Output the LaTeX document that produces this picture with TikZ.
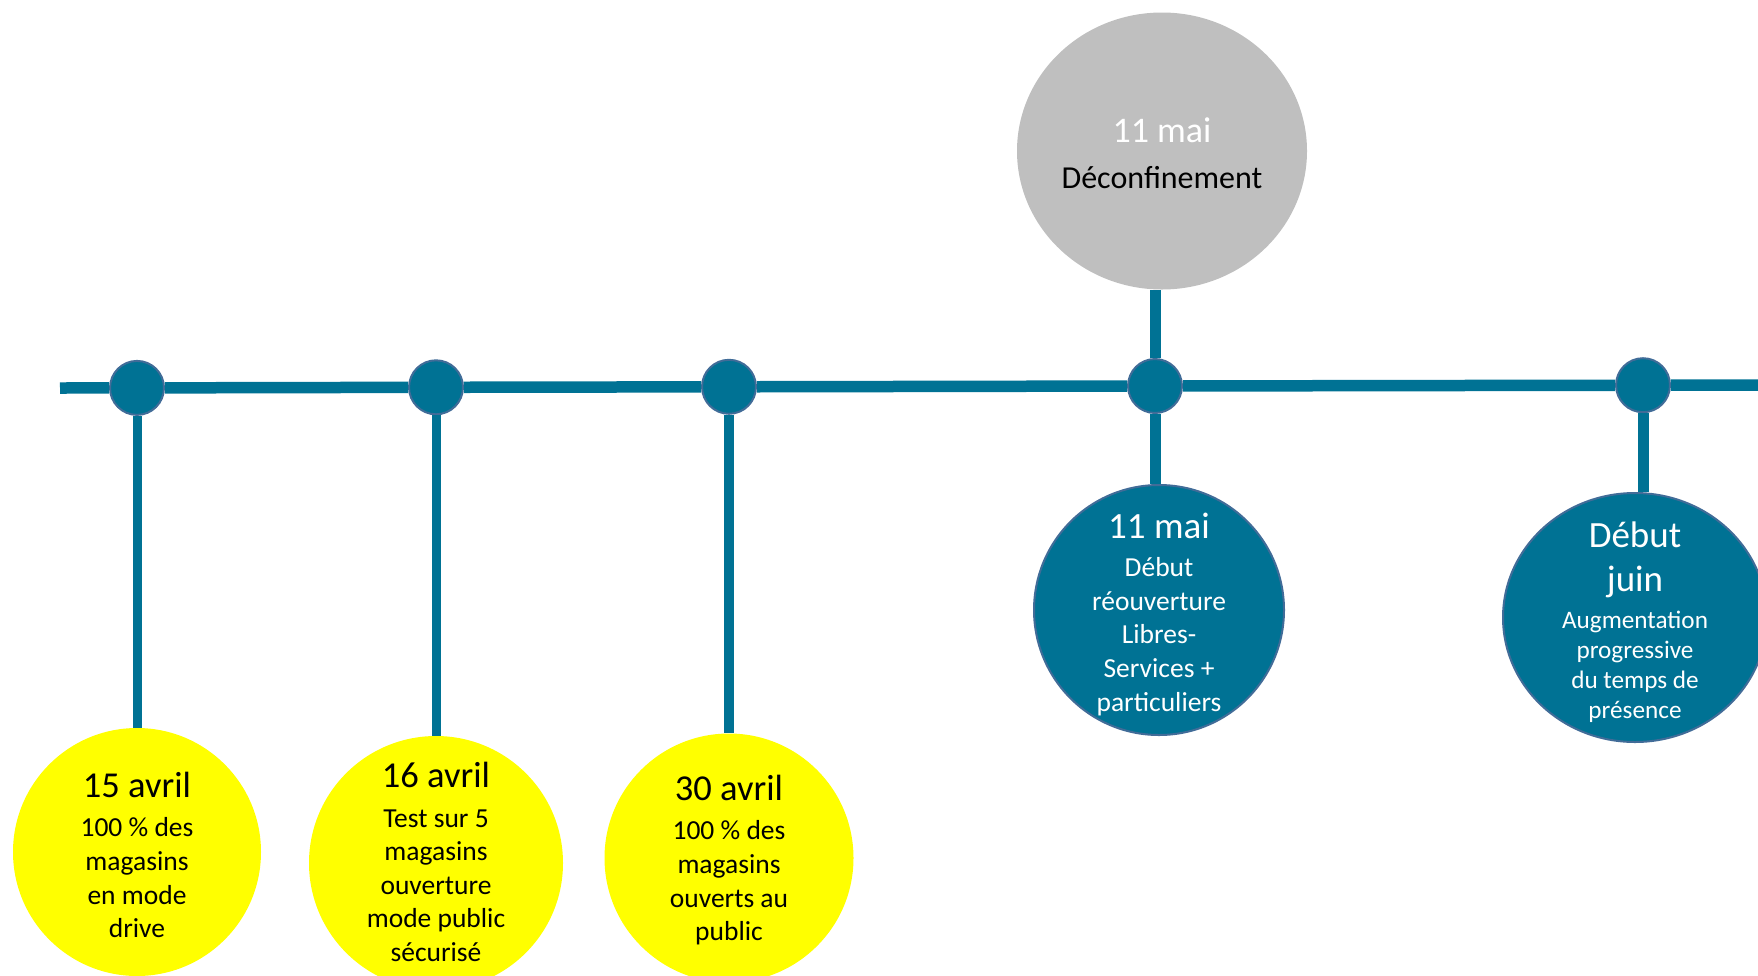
\documentclass[tikz,border=0pt]{standalone}
\usepackage{fontspec}
\setmainfont{Carlito}
\usetikzlibrary{shapes.geometric}
\definecolor{tealA}{RGB}{0,114,148}
\definecolor{edgeA}{RGB}{65,108,152}
\definecolor{yelA}{RGB}{255,255,0}
\definecolor{gryA}{RGB}{191,191,191}
\newcommand\tlfont[1]{{\fontsize{36.5}{40}\selectfont #1}}
\begin{document}
\begin{tikzpicture}[x=1pt,y=-1pt,
  dotnode/.style={circle,fill=tealA,draw=edgeA,line width=2pt,minimum size=54pt,inner sep=0pt},
  yelcirc/.style={circle,fill=yelA,inner sep=0pt},
  bluecirc/.style={circle,fill=tealA,draw=edgeA,line width=2pt,inner sep=0pt},
  txt/.style={align=center,inner sep=0pt,font=\fontsize{27.5}{33.6}\selectfont},
  bar/.style={draw=tealA,line width=11.5pt},
  stem/.style={draw=tealA,line width=#1},
  stem/.default=10pt]
\useasboundingbox (0,0) rectangle (1758,975);
\clip (0,0) rectangle (1758,975);
% dots on the timeline
\node[dotnode] (d1) at (137,387.9) {};
\node[dotnode] (d2) at (436,387.3) {};
\node[dotnode] (d3) at (729,386.8) {};
\node[dotnode] (d4) at (1155,386) {};
\node[dotnode] (d5) at (1643,385.2) {};
\coordinate (ls) at (60,388);
\coordinate (le) at (1758,385);
% event circles
\node[yelcirc,minimum size=248pt] (c1) at (137,852) {};
\node[yelcirc,minimum size=254pt] (c2) at (436,863) {};
\node[yelcirc,minimum size=249pt] (c3) at (729,858) {};
\node[bluecirc,minimum size=250pt] (c4) at (1159,610) {};
\node[ellipse,fill=tealA,draw=edgeA,line width=2pt,inner sep=0pt,minimum width=264pt,minimum height=249pt] (c5) at (1635,617.5) {};
\node[ellipse,fill=gryA,inner sep=0pt,minimum width=290pt,minimum height=277pt] (g) at (1162,151) {};
% connectors
\draw[bar] (ls) -- (d1) -- (d2) -- (d3) -- (d4) -- (d5) -- (le);
\draw[stem=9pt] (d1) -- (c1);
\draw[stem=9pt] (d2) -- (c2);
\draw[stem=10pt] (d3) -- (c3);
\draw[stem=11pt] (d4) -- (d4 |- c4.north);
\draw[stem=11pt] (d5) -- (d5 |- c5.north);
\draw[stem=11pt] (d4 |- g.south) -- (d4);
% texts
\node[txt] (t1) at (137,855) {\tlfont{15 avril}\\[6pt]100 \% des\\magasins\\en mode\\drive};
\node[txt] (t2) at (436,862) {\tlfont{16 avril}\\[6pt]Test sur 5\\magasins\\ouverture\\mode public\\sécurisé};
\node[txt] (t3) at (729,860) {\tlfont{30 avril}\\[6pt]100 \% des\\magasins\\ouverts au\\public};
\node[txt,text=white] (t4) at (1159,614) {{\fontsize{37}{40}\selectfont 11 mai}\\[5pt]Début\\réouverture\\Libres-\\Services +\\particuliers};
\node[align=center,inner sep=0pt,text=white,font=\fontsize{25.2}{30}\selectfont] (t5) at (1635,622)
  {{\fontsize{37}{44}\selectfont Début}\\[14pt]{\fontsize{37}{44}\selectfont juin}\\[7pt]Augmentation\\progressive\\du temps de\\présence};
\node[align=center,inner sep=0pt,font=\fontsize{32}{40}\selectfont] (tg) at (1162,153)
  {\textcolor{white}{\fontsize{36}{40}\selectfont 11 mai}\\[6pt]Déconfinement};
\end{tikzpicture}
\end{document}
